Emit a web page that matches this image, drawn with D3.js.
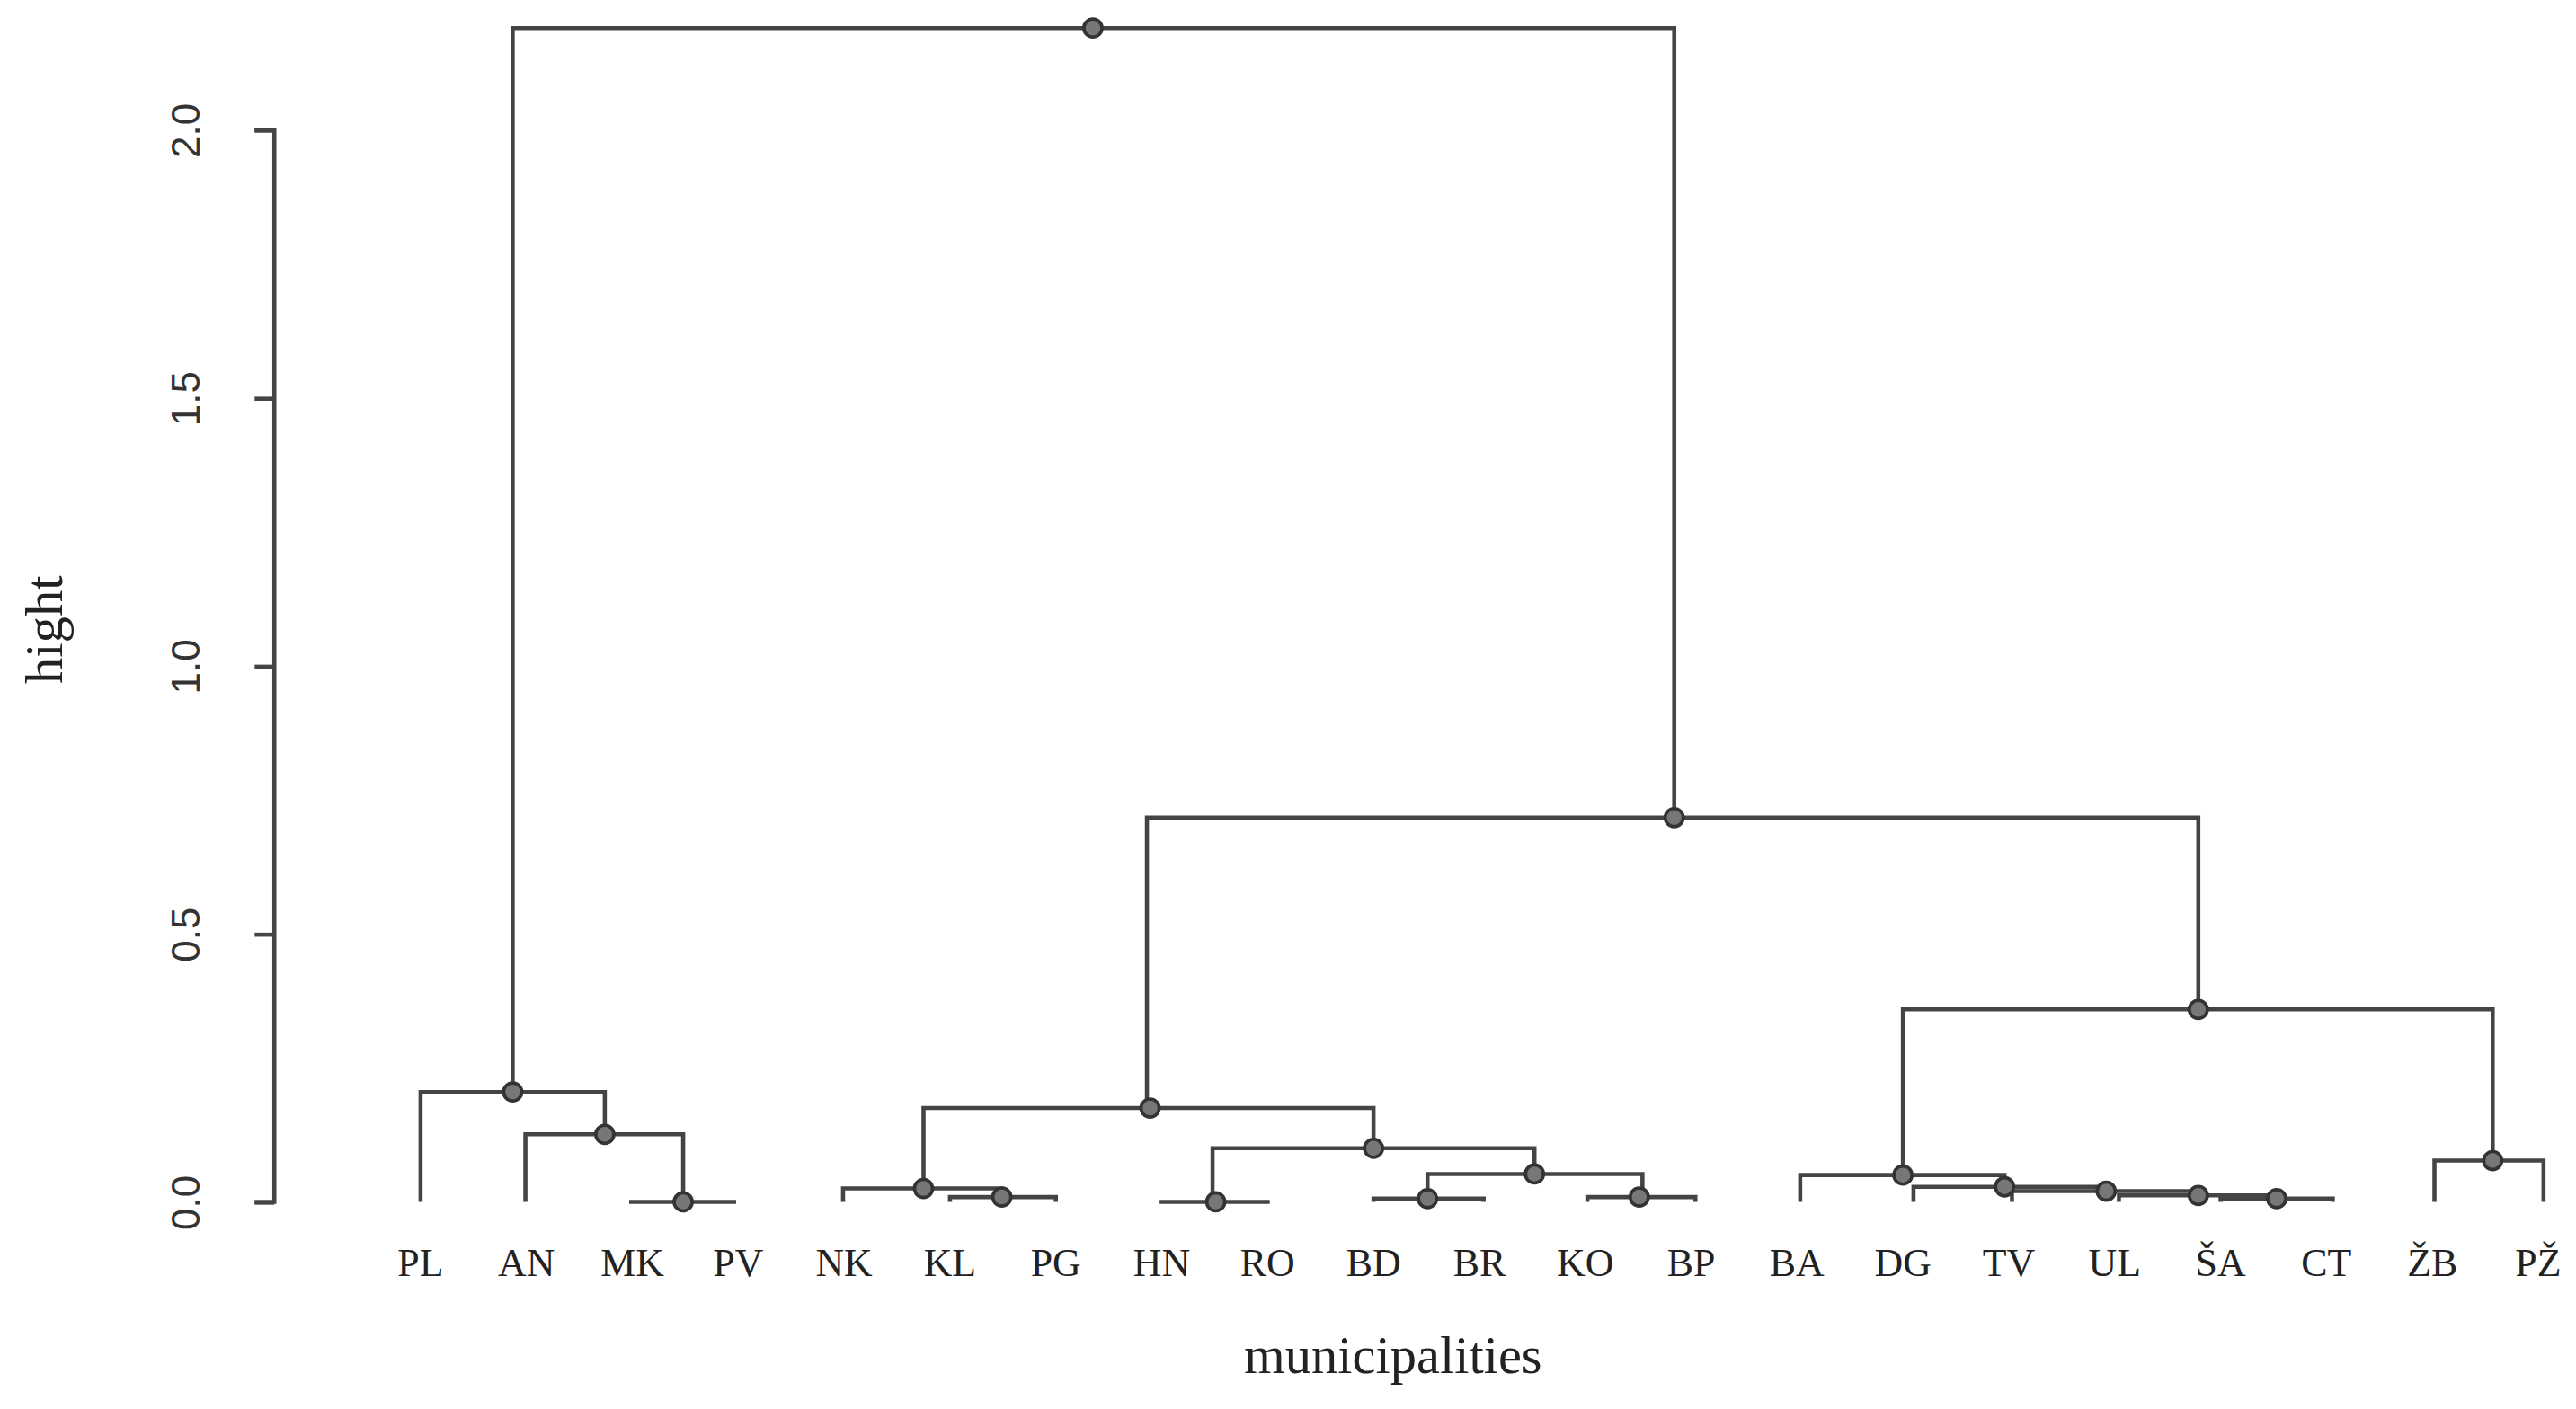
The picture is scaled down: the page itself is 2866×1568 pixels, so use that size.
<!DOCTYPE html>
<html><head><meta charset="utf-8">
<script src="https://cdn.jsdelivr.net/npm/d3@7"></script>
<style>body{margin:0;background:#fff}</style></head>
<body><div id="chart"></div>
<script>
const leaves = ["PL","AN","MK","PV","NK","KL","PG","HN","RO","BD","BR","KO","BP","BA","DG","TV","UL","ŠA","CT","ŽB","PŽ"];
// merges: height, left x, right x, node x (in leaf units), left drop height, right drop height
const mergeHeight = [2.19,0.205,0.126,0,0.717,0.175,0.025,0.009,0.10,0,0.052,0.006,0.009,0.359,0.077,0.05,0.028,0.02,0.012,0.006];
const mergeLeft   = [0.87,0,0.99,1.97,6.86,4.75,3.99,5.0,7.48,6.98,9.51,9.0,11.02,14.0,19.02,13.03,14.1,15.03,16.04,17.0];
const mergeRight  = [11.84,1.74,2.48,2.98,16.79,9.0,5.49,6.0,10.52,8.02,11.54,10.04,12.04,19.57,20.05,14.96,15.92,16.79,17.53,18.06];
const mergeNode   = [6.35,0.87,1.74,2.48,11.84,6.89,4.75,5.49,9.0,7.51,10.52,9.51,11.51,16.79,19.57,14.0,14.96,15.92,16.79,17.53];
const dropLeft    = [0.205,0,0,0,0.175,0.025,0,0,0,0,0.006,0,0,0.05,0,0,0,0,0,0];
const dropRight   = [0.717,0.126,0,0,0.359,0.10,0.009,0,0.052,0,0.009,0,0,0.077,0,0.028,0.02,0.012,0.006,0];
const yTicks = [0,0.5,1.0,1.5,2.0];

const W = 1568, H = 857;
const svg = d3.select("#chart").append("svg")
  .attr("width", 2866).attr("height", 1568)
  .attr("viewBox", `0 0 ${W} ${H}`).attr("preserveAspectRatio","none");

const x = d3.scaleLinear().domain([0, 20]).range([256, 1545]);
const y = d3.scaleLinear().domain([0, 2]).range([731, 79]);
const col = "#444";

// y axis
const yAxis = svg.append("g").attr("transform","translate(167,0)")
  .call(d3.axisLeft(y).tickValues(yTicks).tickFormat(d3.format(".1f")).tickSize(12));
yAxis.select(".domain").attr("stroke", col).attr("stroke-width", 2.5).attr("d", `M-12,${y(0)}H0V${y(2)}H-12`);
yAxis.selectAll(".tick line").attr("stroke", col).attr("stroke-width", 2.5);
yAxis.selectAll(".tick text").attr("font-family","Liberation Sans, Arial, sans-serif")
  .attr("font-size", 24).attr("fill","#333")
  .attr("transform", d => `translate(-52,${0}) rotate(-90)`).attr("x", 0).attr("dy", 0)
  .attr("text-anchor","middle").attr("dominant-baseline","middle");

// dendrogram links
const g = svg.append("g");
mergeHeight.forEach((h, i) => {
  const p = d3.path();
  p.moveTo(x(mergeLeft[i]), y(dropLeft[i]));
  p.lineTo(x(mergeLeft[i]), y(h));
  p.lineTo(x(mergeRight[i]), y(h));
  p.lineTo(x(mergeRight[i]), y(dropRight[i]));
  g.append("path").attr("d", p.toString()).attr("fill","none")
    .attr("stroke", col).attr("stroke-width", 2.5);
});
g.selectAll("circle").data(mergeHeight).join("circle")
  .attr("cx", (d, i) => x(mergeNode[i])).attr("cy", d => y(d)).attr("r", 5.5)
  .attr("fill","#777").attr("stroke","#333").attr("stroke-width", 2);

// leaf labels
svg.append("g").selectAll("text").data(leaves).join("text")
  .attr("x", (d, i) => x(i)).attr("y", 776)
  .attr("text-anchor","middle")
  .attr("font-family","Liberation Serif, Times New Roman, serif")
  .attr("font-size", 24).attr("fill","#222").text(d => d);

svg.append("text").attr("x", 848).attr("y", 835).attr("text-anchor","middle")
  .attr("font-family","Liberation Serif, serif").attr("font-size", 32).attr("fill","#222")
  .text("municipalities");
svg.append("text").attr("transform","translate(38,383) rotate(-90)").attr("text-anchor","middle")
  .attr("font-family","Liberation Serif, serif").attr("font-size", 32).attr("fill","#222")
  .text("hight");
</script></body></html>
